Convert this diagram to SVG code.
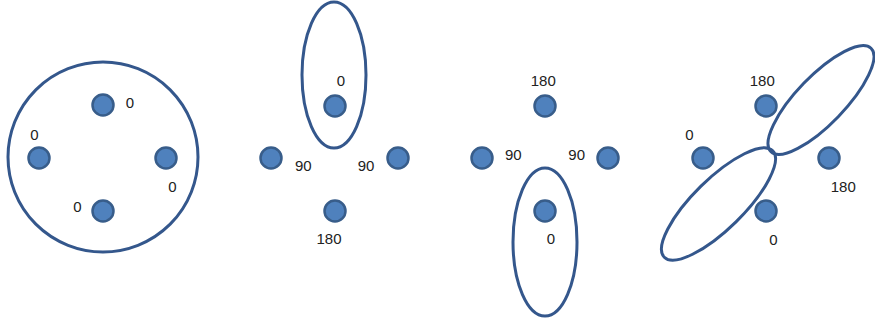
<svg xmlns="http://www.w3.org/2000/svg" width="875" height="324" viewBox="0 0 875 324">
<style>
.dot{fill:#4F81BD;stroke:#385D8A;stroke-width:2.5}
.ring{fill:none;stroke:#34578C;stroke-width:3}
text{font-family:"Liberation Sans",Arial,sans-serif;font-size:15px;fill:#222;text-anchor:middle}
</style>
<rect width="875" height="324" fill="#fff"/>
<g id="panel1">
<ellipse id="p1-ring" class="ring" cx="103" cy="157" rx="95" ry="95"/>
<g id="p1-top"><circle class="dot" cx="103" cy="105" r="10.5"/><text x="130" y="107.5">0</text></g>
<g id="p1-left"><circle class="dot" cx="39" cy="158" r="10.5"/><text x="34.3" y="140">0</text></g>
<g id="p1-right"><circle class="dot" cx="166" cy="158" r="10.5"/><text x="172.3" y="191.5">0</text></g>
<g id="p1-bottom"><circle class="dot" cx="103" cy="211" r="10.5"/><text x="77.3" y="212">0</text></g>
</g>
<g id="panel2">
<ellipse id="p2-ring" class="ring" cx="334" cy="75" rx="32" ry="73"/>
<g id="p2-top"><circle class="dot" cx="335" cy="106" r="10.5"/><text x="341" y="85.5">0</text></g>
<g id="p2-left"><circle class="dot" cx="271" cy="158" r="10.5"/><text x="303.3" y="170.5">90</text></g>
<g id="p2-right"><circle class="dot" cx="398" cy="158" r="10.5"/><text x="366" y="170.5">90</text></g>
<g id="p2-bottom"><circle class="dot" cx="335" cy="211" r="10.5"/><text x="329" y="243.8">180</text></g>
</g>
<g id="panel3">
<ellipse id="p3-ring" class="ring" cx="545" cy="242" rx="32" ry="74"/>
<g id="p3-top"><circle class="dot" cx="545" cy="106" r="10.5"/><text x="543.3" y="86.4">180</text></g>
<g id="p3-left"><circle class="dot" cx="482" cy="158" r="10.5"/><text x="513.3" y="160.4">90</text></g>
<g id="p3-right"><circle class="dot" cx="608" cy="158" r="10.5"/><text x="576.7" y="160.4">90</text></g>
<g id="p3-bottom"><circle class="dot" cx="545" cy="211" r="10.5"/><text x="551" y="243.8">0</text></g>
</g>
<g id="panel4">
<ellipse id="p4-ring-upper" class="ring" cx="821" cy="100" rx="72" ry="24" transform="rotate(-46 821 100)"/>
<ellipse id="p4-ring-lower" class="ring" cx="718.5" cy="204" rx="76" ry="25" transform="rotate(-44.5 718.5 204)"/>
<g id="p4-top"><circle class="dot" cx="766" cy="106" r="10.5"/><text x="762.3" y="86">180</text></g>
<g id="p4-left"><circle class="dot" cx="703" cy="158" r="10.5"/><text x="689.3" y="140.4">0</text></g>
<g id="p4-right"><circle class="dot" cx="829" cy="158" r="10.5"/><text x="843.3" y="192">180</text></g>
<g id="p4-bottom"><circle class="dot" cx="766" cy="211" r="10.5"/><text x="773.3" y="245.4">0</text></g>
</g>
<g id="connectors"/>
</svg>
